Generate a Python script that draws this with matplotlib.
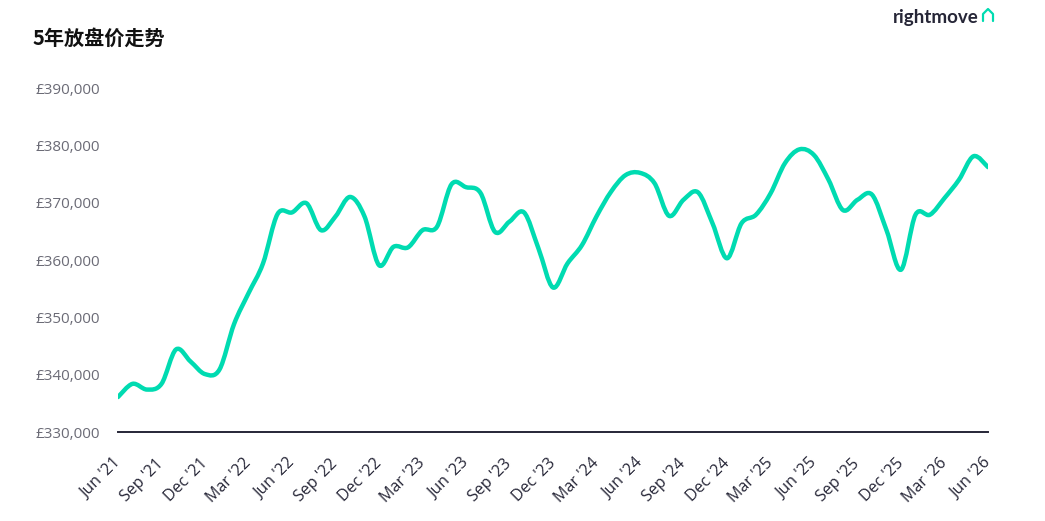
import numpy as np
import matplotlib
matplotlib.use('Agg')
import matplotlib.pyplot as plt
from matplotlib.path import Path
from matplotlib.patches import PathPatch
from matplotlib.ticker import FuncFormatter

plt.rcParams['font.family'] = ['Open Sans', 'Noto Sans CJK SC', 'DejaVu Sans']

# monthly asking price, Jun '21 .. Jun '26
months = np.arange(61)
prices = [336100, 338400, 337400, 338400, 344400, 342300, 340100, 340900, 348800, 354200,
          359400, 368000, 368300, 369900, 365200, 367600, 371000, 367600, 359100, 362300,
          362200, 365200, 365800, 373200, 372700, 371700, 364900, 366700, 368300, 362000,
          355200, 359400, 362600, 367600, 371900, 374800, 375200, 373400, 367700, 370500,
          371800, 366400, 360300, 366400, 367900, 371600, 376900, 379300, 378300, 374000,
          368700, 370500, 371400, 365200, 358300, 367900, 367900, 370800, 374000, 378100,
          376200]
tick_pos = np.arange(0, 61, 3)
tick_labels = ["Jun '21", "Sep '21", "Dec '21", "Mar '22", "Jun '22", "Sep '22", "Dec '22",
               "Mar '23", "Jun '23", "Sep '23", "Dec '23", "Mar '24", "Jun '24", "Sep '24",
               "Dec '24", "Mar '25", "Jun '25", "Sep '25", "Dec '25", "Mar '26", "Jun '26"]
y_ticks = np.arange(330000, 390001, 10000)

teal = '#00dbb1'
ink = '#262637'

fig = plt.figure(figsize=(10.45, 5.21), dpi=100)
ax = fig.add_axes([118 / 1045, 89 / 521, 870 / 1045, 344 / 521])

# smooth spline drawn as cubic bezier segments (catmull-rom style)
pts = np.column_stack([months, prices]).astype(float)
verts = [pts[0]]
codes = [Path.MOVETO]
for i in range(len(pts) - 1):
    p0 = pts[max(i - 1, 0)]
    p1 = pts[i]
    p2 = pts[i + 1]
    p3 = pts[min(i + 2, len(pts) - 1)]
    c1 = p1 + (p2 - p0) / 6
    c2 = p2 - (p3 - p1) / 6
    verts += [c1, c2, p2]
    codes += [Path.CURVE4] * 3
ax.add_patch(PathPatch(Path(verts, codes), facecolor='none', edgecolor=teal,
                       lw=3.2, capstyle='round', joinstyle='round'))

ax.set_xlim(0, 60)
ax.set_ylim(330000, 390000)
ax.set_xticks(tick_pos)
ax.set_xticklabels(tick_labels, rotation=45, ha='right', va='center',
                   rotation_mode='anchor', fontsize=11.5, color=ink)
ax.set_yticks(y_ticks)
ax.yaxis.set_major_formatter(FuncFormatter(lambda v, p: '£{:,.0f}'.format(v)))
ax.tick_params(axis='y', length=0, pad=13, labelsize=11, labelcolor='#6b6b76')
ax.tick_params(axis='x', length=0, pad=21)
for s in ['top', 'right', 'left']:
    ax.spines[s].set_visible(False)
ax.spines['bottom'].set_color(ink)
ax.spines['bottom'].set_linewidth(1.4)

fig.text(33 / 1045, 1 - 38 / 521, '5年放盘价走势', fontsize=14.5, fontweight='heavy',
         family=['Noto Sans CJK SC', 'DejaVu Sans'], color='#111111', va='center')
fig.text(979 / 1045, 1 - 18 / 521, 'rightmove', fontsize=13.5, fontweight='bold',
         color=ink, ha='right', va='center', family=['Lato', 'DejaVu Sans'])

# little house mark next to the logo
hx = np.array([983, 983, 988, 993, 993]) / 1045
hy = 1 - np.array([21, 14, 9, 14, 21]) / 521
fig.add_artist(plt.Line2D(hx, hy, transform=fig.transFigure, color=teal, lw=1.6,
                          solid_joinstyle='round', solid_capstyle='round'))

fig.savefig('out.png', dpi=100, facecolor='white')
